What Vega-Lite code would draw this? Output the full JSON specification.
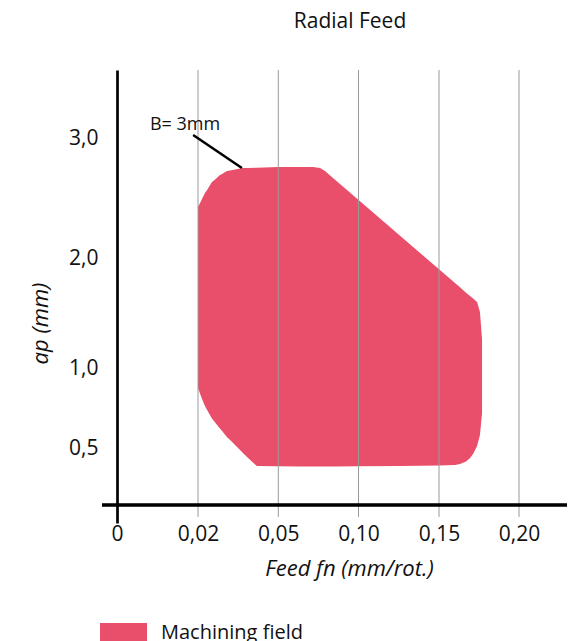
{
  "$schema": "https://vega.github.io/schema/vega-lite/v6.json",
  "width": 465,
  "height": 453,
  "autosize": {"type": "none"},
  "padding": {"left": 102, "top": 70, "right": 21, "bottom": 118},
  "title": {"text": "Radial Feed", "font": "Open Sans", "fontSize": 21, "fontWeight": "normal", "color": "#111", "frame": "group", "anchor": "middle", "dx": 15.5, "offset": 38},
  "config": {"view": {"stroke": null}, "font": "Open Sans"},
  "datasets": {
    "field": [
      {"fn": 0.0200, "ap_top": 2.425, "ap_bot": 0.875},
      {"fn": 0.0215, "ap_top": 2.492, "ap_bot": 0.806},
      {"fn": 0.0226, "ap_top": 2.542, "ap_bot": 0.7625},
      {"fn": 0.0234, "ap_top": 2.567, "ap_bot": 0.7375},
      {"fn": 0.0252, "ap_top": 2.633, "ap_bot": 0.684},
      {"fn": 0.0264, "ap_top": 2.655, "ap_bot": 0.659},
      {"fn": 0.0282, "ap_top": 2.692, "ap_bot": 0.622},
      {"fn": 0.0290, "ap_top": 2.701, "ap_bot": 0.606},
      {"fn": 0.0308, "ap_top": 2.725, "ap_bot": 0.569},
      {"fn": 0.0320, "ap_top": 2.730, "ap_bot": 0.55},
      {"fn": 0.0357, "ap_top": 2.745, "ap_bot": 0.482},
      {"fn": 0.0368, "ap_top": 2.750, "ap_bot": 0.456},
      {"fn": 0.0387, "ap_top": 2.751, "ap_bot": 0.412},
      {"fn": 0.0420, "ap_top": 2.753, "ap_bot": 0.342},
      {"fn": 0.0499, "ap_top": 2.758, "ap_bot": 0.339},
      {"fn": 0.0635, "ap_top": 2.758, "ap_bot": 0.338},
      {"fn": 0.0716, "ap_top": 2.758, "ap_bot": 0.338},
      {"fn": 0.0760, "ap_top": 2.750, "ap_bot": 0.338},
      {"fn": 0.0791, "ap_top": 2.725, "ap_bot": 0.338},
      {"fn": 0.0841, "ap_top": 2.667, "ap_bot": 0.338},
      {"fn": 0.0997, "ap_top": 2.4875, "ap_bot": 0.339},
      {"fn": 0.1258, "ap_top": 2.186, "ap_bot": 0.342},
      {"fn": 0.1500, "ap_top": 1.897, "ap_bot": 0.346},
      {"fn": 0.1600, "ap_top": 1.772, "ap_bot": 0.351},
      {"fn": 0.1631, "ap_top": 1.733, "ap_bot": 0.36},
      {"fn": 0.1669, "ap_top": 1.685, "ap_bot": 0.382},
      {"fn": 0.1694, "ap_top": 1.655, "ap_bot": 0.412},
      {"fn": 0.1713, "ap_top": 1.631, "ap_bot": 0.447},
      {"fn": 0.1738, "ap_top": 1.600, "ap_bot": 0.5125},
      {"fn": 0.1756, "ap_top": 1.509, "ap_bot": 0.581},
      {"fn": 0.1769, "ap_top": 1.26, "ap_bot": 0.719}
    ],
    "grid": [{"fn": 0.02}, {"fn": 0.05}, {"fn": 0.10}, {"fn": 0.15}, {"fn": 0.20}],
    "note": [{"label": "B= 3mm", "fn": 0.0168, "ap": 3.108, "fn_end": 0.0364, "ap_start": 3.025, "ap_end": 2.75, "fn_start": 0.0188}]
  },
  "layer": [
    {
      "data": {"name": "field"},
      "mark": {"type": "area", "interpolate": "linear"},
      "encoding": {
        "x": {
          "field": "fn", "type": "quantitative",
          "scale": {"domain": [-0.0037, 0, 0.02, 0.05, 0.10, 0.15, 0.20, 0.23], "range": [0, 15, 96, 176.3, 256.5, 337, 417, 465], "nice": false, "zero": false},
          "axis": {
            "title": "Feed fn (mm/rot.)", "values": [0, 0.02, 0.05, 0.10, 0.15, 0.20],
            "labelExpr": "datum.value == 0 ? '0' : replace(format(datum.value, '.2f'), '.', ',')",
            "domain": false, "ticks": false, "grid": false,
            "labelFont": "Open Sans", "labelFontSize": 21, "labelColor": "#111", "labelPadding": 0,
            "titleFont": "Open Sans", "titleFontSize": 22, "titleFontStyle": "italic", "titleFontWeight": "normal", "titleColor": "#111",
            "titleX": 247, "titlePadding": 14
          }
        },
        "y": {
          "field": "ap_top", "type": "quantitative",
          "scale": {"domain": [-0.158, 0, 0.5, 1, 2, 3, 3.567], "range": [453, 435, 378, 298, 188, 68, 0], "nice": false, "zero": false},
          "axis": {
            "title": "ap (mm)", "values": [0.5, 1, 2, 3], "offset": -15,
            "labelExpr": "replace(format(datum.value, '.1f'), '.', ',')",
            "domain": true, "domainColor": "#000", "domainWidth": 2.7,
            "ticks": false, "grid": false,
            "labelFont": "Open Sans", "labelFontSize": 21, "labelColor": "#111", "labelPadding": 19,
            "titleFont": "Open Sans", "titleFontSize": 22, "titleFontStyle": "italic", "titleFontWeight": "normal", "titleColor": "#111",
            "titleY": 253, "titlePadding": 16
          }
        },
        "y2": {"field": "ap_bot"},
        "color": {
          "datum": "Machining field", "type": "nominal",
          "scale": {"range": ["#E94E6A"]},
          "legend": {"orient": "none", "legendX": -2, "legendY": 539, "title": null, "symbolType": "M-1,-0.4H1V0.4H-1Z", "symbolSize": 2209, "symbolStrokeWidth": 0, "labelFont": "Open Sans", "labelFontSize": 20, "labelColor": "#111", "labelOffset": 14, "padding": 0}
        }
      }
    },
    {
      "data": {"name": "grid"},
      "mark": {"type": "rule", "color": "#9a9a9a", "strokeWidth": 1},
      "encoding": {
        "x": {"field": "fn", "type": "quantitative"},
        "y": {"datum": 3.567},
        "y2": {"datum": -0.105}
      }
    },
    {
      "data": {"name": "grid"},
      "mark": {"type": "rule", "color": "#000", "strokeWidth": 2.5},
      "encoding": {
        "x": {"datum": -0.0037},
        "x2": {"datum": 0.23},
        "y": {"datum": 0}
      }
    },
    {
      "data": {"name": "note"},
      "mark": {"type": "rule", "color": "#000", "strokeWidth": 2.5},
      "encoding": {
        "x": {"field": "fn_start", "type": "quantitative"},
        "x2": {"field": "fn_end"},
        "y": {"field": "ap_start", "type": "quantitative"},
        "y2": {"field": "ap_end"}
      }
    },
    {
      "data": {"name": "note"},
      "mark": {"type": "text", "font": "Open Sans", "fontSize": 18, "color": "#111", "align": "center", "baseline": "middle"},
      "encoding": {
        "x": {"field": "fn", "type": "quantitative"},
        "y": {"field": "ap", "type": "quantitative"},
        "text": {"field": "label"}
      }
    }
  ]
}
